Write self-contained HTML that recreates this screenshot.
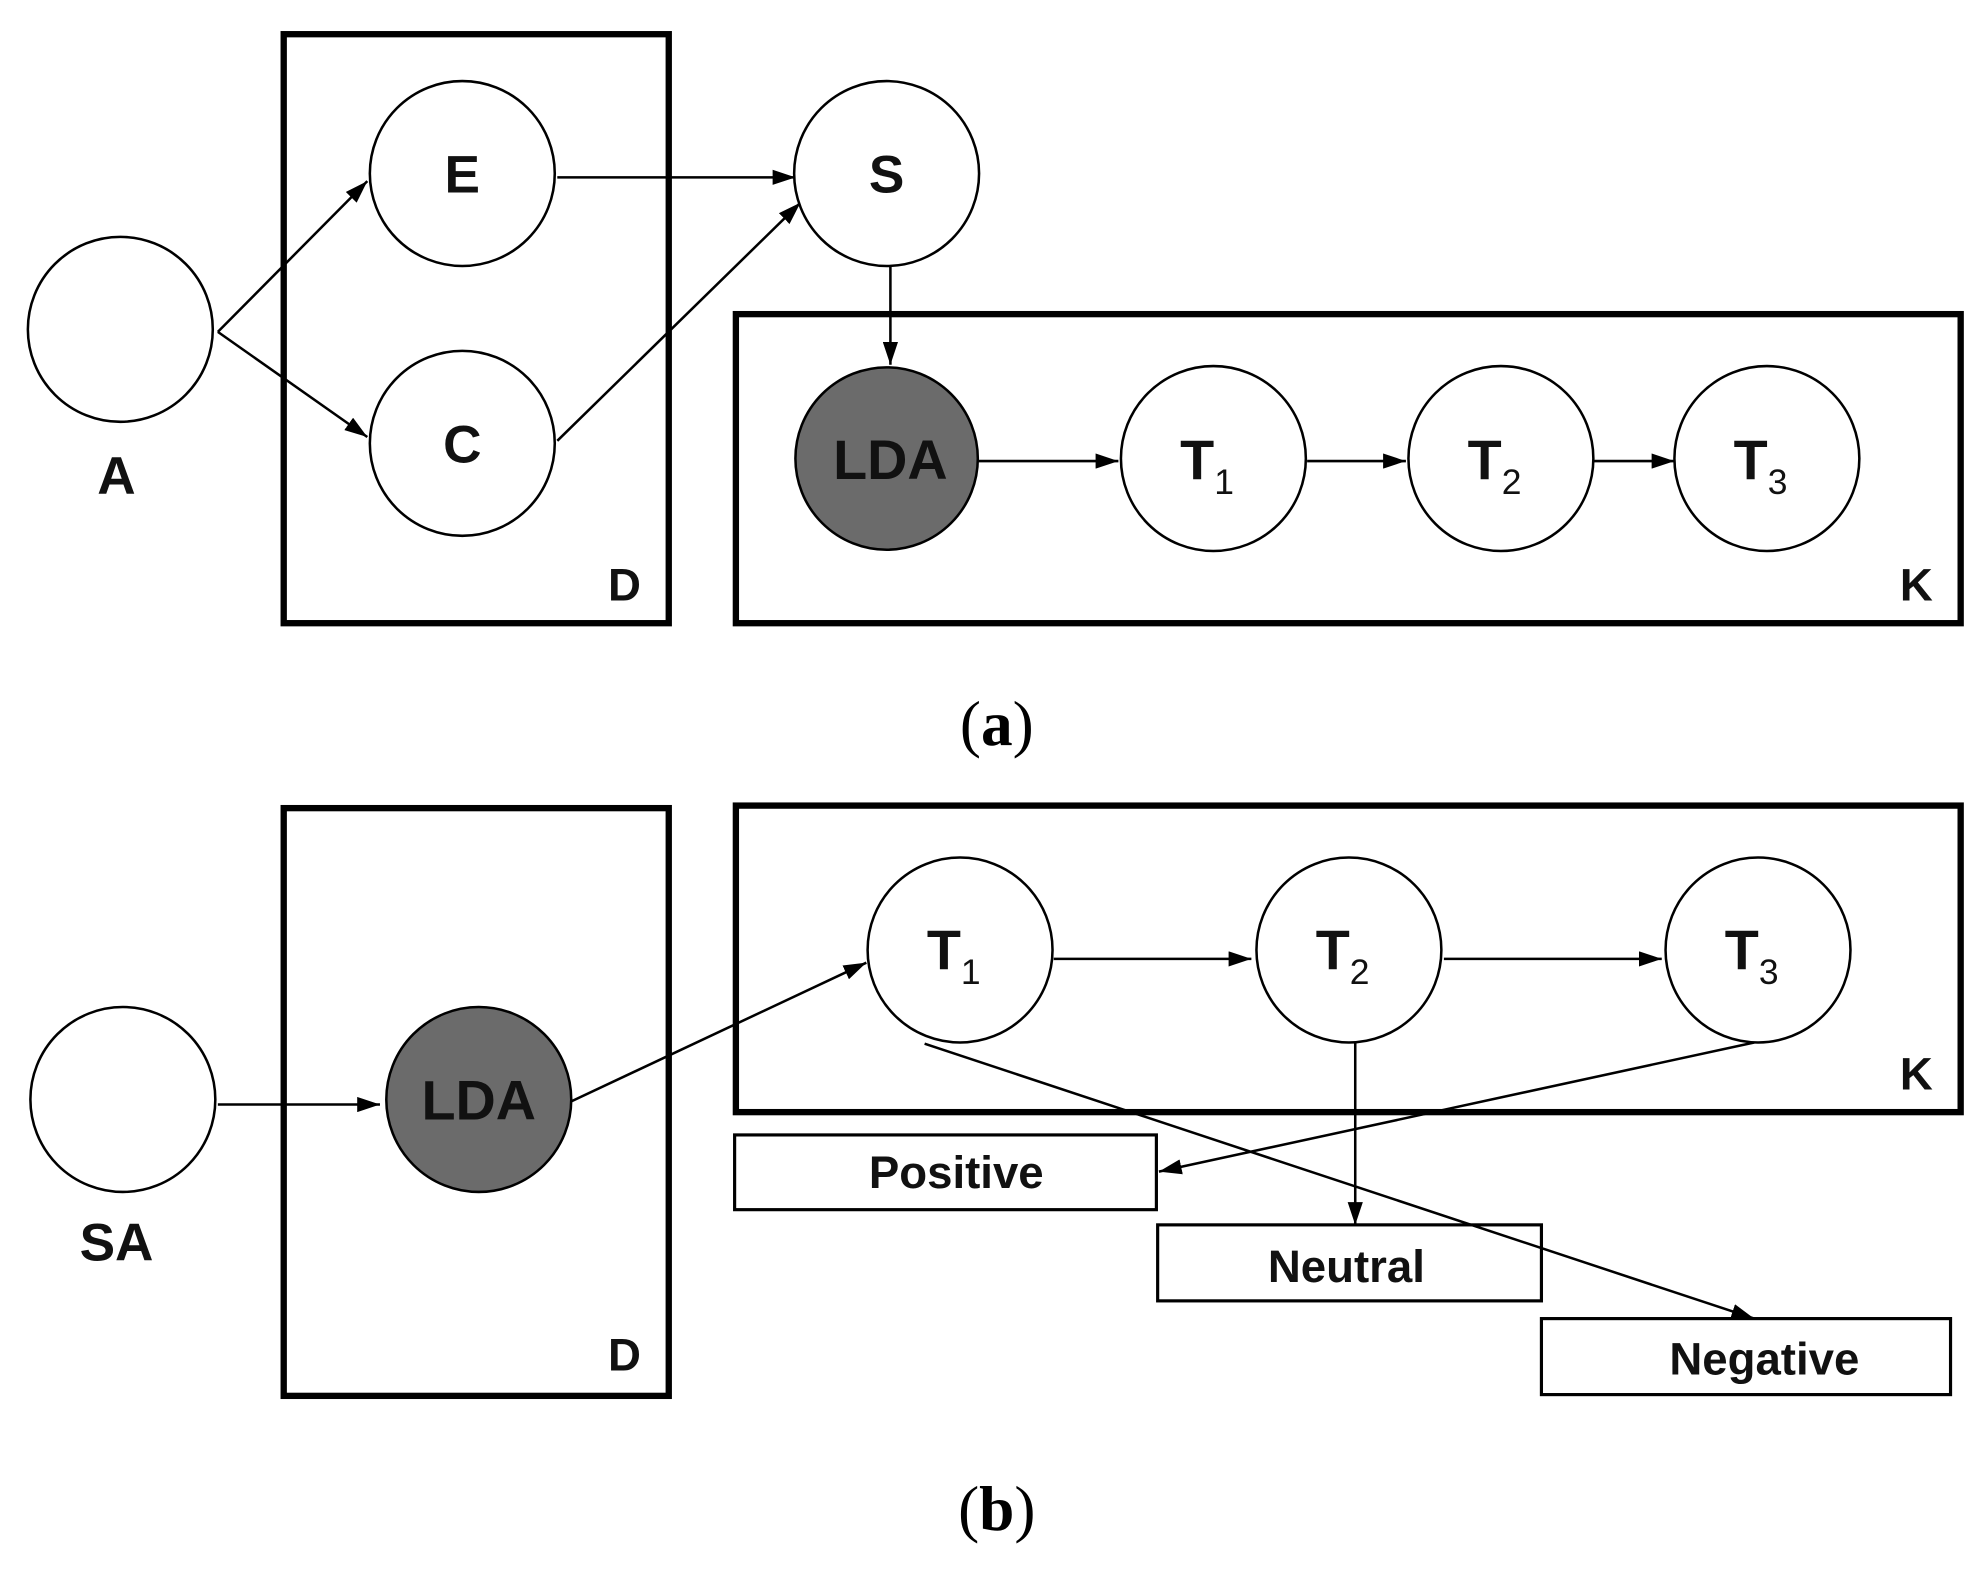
<!DOCTYPE html>
<html><head><meta charset="utf-8"><style>
html,body{margin:0;padding:0;background:#fff;}
svg{display:block;}
text{font-family:"Liberation Sans",Arial,sans-serif;}
</style></head><body>
<svg width="1986" height="1577" viewBox="0 0 1568 1245" preserveAspectRatio="none" xmlns="http://www.w3.org/2000/svg">
<defs>
<marker id="ah" markerWidth="18" markerHeight="12" refX="18" refY="6" orient="auto" markerUnits="userSpaceOnUse" viewBox="0 0 18 12">
<path d="M0,0 L18,6 L0,12 z" fill="#000"/></marker>
</defs>
<rect width="1568" height="1245" fill="#fff"/>
<g stroke="#000" stroke-width="5" fill="none">
<rect x="224" y="27" width="304" height="465"/>
<rect x="581" y="248" width="967" height="244"/>
<rect x="224" y="638" width="304" height="464"/>
<rect x="581" y="636" width="967" height="242"/>
</g>
<g stroke="#000" stroke-width="2.5" fill="none">
<rect x="580" y="896" width="333" height="59"/>
<rect x="914" y="967" width="303" height="60"/>
<rect x="1217" y="1041" width="323" height="60"/>
</g>
<g stroke="#000" stroke-width="2" fill="none" marker-end="url(#ah)">
<path d="M172,262 L290,143"/>
<path d="M172,262 L290,345"/>
<path d="M440,140 L628,140"/>
<path d="M440,348 L632,160"/>
<path d="M703,210 L703,288"/>
<path d="M772,364 L883,364"/>
<path d="M1032,364 L1110,364"/>
<path d="M1258,364 L1322,364"/>
<path d="M172,872 L300,872"/>
<path d="M450,870 L684,760"/>
<path d="M832,757 L988,757"/>
<path d="M1140,757 L1312,757"/>
<path d="M730,824 L1385,1041"/>
<path d="M1070,823 L1070,967"/>
<path d="M1385,823 L915,925"/>
</g>
<g stroke="#000" stroke-width="2" fill="#fff">
<circle cx="95" cy="260" r="73"/>
<circle cx="365" cy="137" r="73"/>
<circle cx="365" cy="350" r="73"/>
<circle cx="700" cy="137" r="73"/>
<circle cx="700" cy="362" r="72" fill="#6b6b6b"/>
<circle cx="958" cy="362" r="73"/>
<circle cx="1185" cy="362" r="73"/>
<circle cx="1395" cy="362" r="73"/>
<circle cx="97" cy="868" r="73"/>
<circle cx="378" cy="868" r="73" fill="#6b6b6b"/>
<circle cx="758" cy="750" r="73"/>
<circle cx="1065" cy="750" r="73"/>
<circle cx="1388" cy="750" r="73"/>
</g>
<g font-weight="bold" font-size="42" text-anchor="middle" fill="#111">
<text x="92" y="390">A</text>
<text x="365" y="152">E</text>
<text x="365" y="365">C</text>
<text x="700" y="152">S</text>
<text x="493" y="474" font-size="36">D</text>
<text x="1513" y="474" font-size="36">K</text>
<text x="703" y="378" font-size="44">LDA</text>
<text x="953" y="378" font-size="44">T<tspan font-weight="normal" font-size="28" dy="12">1</tspan></text>
<text x="1180" y="378" font-size="44">T<tspan font-weight="normal" font-size="28" dy="12">2</tspan></text>
<text x="1390" y="378" font-size="44">T<tspan font-weight="normal" font-size="28" dy="12">3</tspan></text>
<text x="92" y="995">SA</text>
<text x="378" y="884" font-size="44">LDA</text>
<text x="493" y="1082" font-size="36">D</text>
<text x="1513" y="860" font-size="36">K</text>
<text x="753" y="765" font-size="44">T<tspan font-weight="normal" font-size="28" dy="12">1</tspan></text>
<text x="1060" y="765" font-size="44">T<tspan font-weight="normal" font-size="28" dy="12">2</tspan></text>
<text x="1383" y="765" font-size="44">T<tspan font-weight="normal" font-size="28" dy="12">3</tspan></text>
<text x="755" y="938" font-size="36">Positive</text>
<text x="1063" y="1012" font-size="36">Neutral</text>
<text x="1393" y="1085" font-size="36">Negative</text>
</g>
<g font-size="50" text-anchor="middle" fill="#000">
<text x="787" y="588" style="font-family:'Liberation Serif',serif">(<tspan font-weight="bold">a</tspan>)</text>
<text x="787" y="1208" style="font-family:'Liberation Serif',serif">(<tspan font-weight="bold">b</tspan>)</text>
</g>
</svg>
</body></html>
